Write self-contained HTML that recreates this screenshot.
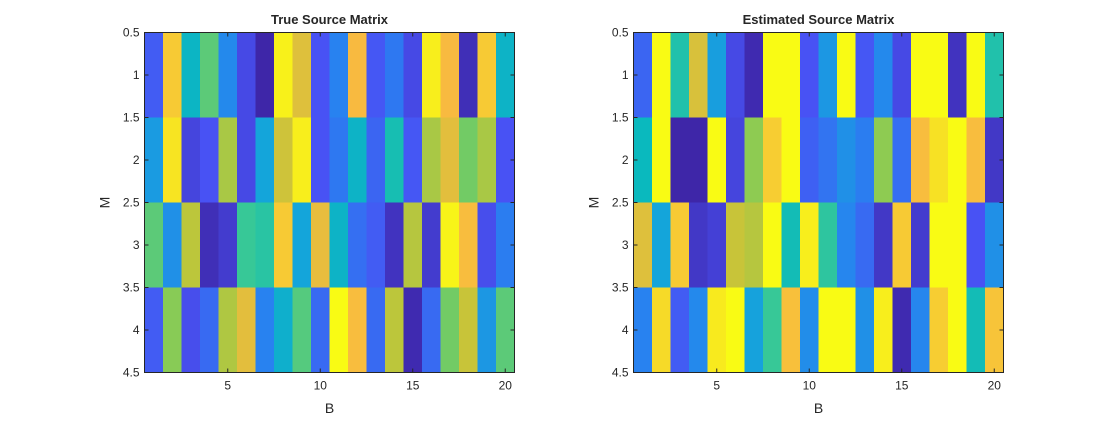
<!DOCTYPE html>
<html><head><meta charset="utf-8"><style>
html,body{margin:0;padding:0;background:#fff;}
svg text{font-family:"Liberation Sans",Arial,sans-serif;fill:#262626;}
</style></head><body>
<svg id="fig" width="1109" height="420" xmlns="http://www.w3.org/2000/svg"></svg>
<script>
const trueRows = [
 [0.12,0.85,0.38,0.55,0.22,0.08,0.0,0.97,0.75,0.10,0.20,0.80,0.11,0.18,0.08,0.96,0.80,0.02,0.85,0.37],
 [0.27,0.93,0.07,0.10,0.66,0.08,0.30,0.72,0.96,0.10,0.18,0.37,0.14,0.43,0.11,0.66,0.76,0.58,0.66,0.10],
 [0.55,0.24,0.69,0.02,0.05,0.50,0.47,0.85,0.30,0.77,0.37,0.16,0.12,0.03,0.68,0.05,0.98,0.81,0.09,0.19],
 [0.12,0.61,0.09,0.15,0.67,0.76,0.20,0.35,0.54,0.15,1.00,0.81,0.15,0.69,0.01,0.15,0.58,0.71,0.26,0.55]
];
const estRows = [
 [0.14,1.00,0.45,0.74,0.28,0.08,0.01,1.00,1.00,0.10,0.26,1.00,0.11,0.22,0.08,1.00,1.00,0.03,1.00,0.45],
 [0.40,1.00,0.00,0.00,1.00,0.07,0.62,0.86,1.00,0.13,0.17,0.24,0.19,0.62,0.16,0.81,0.92,1.00,0.81,0.04],
 [0.75,0.30,0.85,0.04,0.06,0.71,0.68,1.00,0.42,0.96,0.48,0.21,0.15,0.04,0.85,0.05,1.00,1.00,0.10,0.24],
 [0.20,0.90,0.12,0.22,0.95,1.00,0.29,0.50,0.82,0.23,1.00,1.00,0.24,0.96,0.01,0.21,0.86,1.00,0.42,0.83]
];
const xTicks = [5,10,15,20];
const yTicks = [0.5,1,1.5,2,2.5,3,3.5,4,4.5];
const titles = ["True Source Matrix","Estimated Source Matrix"];

const cmap=[[0,62,38,168],[0.1,72,82,244],[0.2,40,130,240],[0.3,20,165,218],[0.4,10,185,190],[0.5,55,200,151],[0.6,129,204,89],[0.7,195,197,56],[0.8,248,186,64],[0.9,246,218,40],[1,249,251,20]];
function parula(v){v=Math.max(0,Math.min(1,v));for(let i=1;i<cmap.length;i++){if(v<=cmap[i][0]){const a=cmap[i-1],b=cmap[i],t=(v-a[0])/(b[0]-a[0]);return `rgb(${[1,2,3].map(k=>Math.round(a[k]+t*(b[k]-a[k]))).join(',')})`;}}return 'rgb(249,251,20)';}
const NS="http://www.w3.org/2000/svg",svg=document.getElementById('fig');
function mk(tag,attrs,parent){const e=document.createElementNS(NS,tag);for(const k in attrs)e.setAttribute(k,attrs[k]);(parent||svg).appendChild(e);return e;}
const panels=[{x0:144.5,x1:514.5,data:trueRows,name:'true'},{x0:633.5,x1:1003.5,data:estRows,name:'estimated'}];
const y0=32.5,y1=372.5;
panels.forEach((p,pi)=>{
 const g=mk('g',{});
 
 
 const nc=p.data[0].length,nr=p.data.length;
 const sx=v=>p.x0+(v-0.5)/nc*(p.x1-p.x0);
 const sy=v=>y0+(v-0.5)/nr*(y1-y0);
 p.data.forEach((row,r)=>row.forEach((v,c)=>{
  const rc=mk('rect',{x:sx(c+0.5),y:sy(r+0.5),width:sx(c+1.5)-sx(c+0.5)+0.5,height:sy(r+1.5)-sy(r+0.5)+0.5,fill:parula(v)},g);
  
  
 }));
 const fr=mk('rect',{x:p.x0,y:y0,width:p.x1-p.x0,height:y1-y0,fill:'none',stroke:'#262626','stroke-width':1},g);
 
 
 xTicks.forEach(t=>{const x=sx(t);
  mk('line',{x1:x,x2:x,y1:y1,y2:y1-4,stroke:'#262626'},g);
  mk('line',{x1:x,x2:x,y1:y0,y2:y0+4,stroke:'#262626'},g);
  const tx=mk('text',{x:x,y:y1+17,'text-anchor':'middle','font-size':12},g);tx.textContent=t;
  
  });
 yTicks.forEach(t=>{const y=sy(t);
  mk('line',{x1:p.x0,x2:p.x0+4,y1:y,y2:y,stroke:'#262626'},g);
  mk('line',{x1:p.x1,x2:p.x1-4,y1:y,y2:y,stroke:'#262626'},g);
  const tx=mk('text',{x:p.x0-5,y:y+4,'text-anchor':'end','font-size':12},g);tx.textContent=t;
  
  });
 const ti=mk('text',{x:(p.x0+p.x1)/2,y:24,'text-anchor':'middle','font-size':13,'font-weight':'bold',fill:'#000'},g);ti.textContent=titles[pi];
 
 
 const xl=mk('text',{x:(p.x0+p.x1)/2,y:413,'text-anchor':'middle','font-size':14},g);xl.textContent='B';
 
 
 const yx=p.x0-35,yy=(y0+y1)/2;
 const yl=mk('text',{x:yx,y:yy,'text-anchor':'middle','font-size':14,transform:`rotate(-90 ${yx} ${yy})`},g);yl.textContent='M';
 
 
});
</script>
</body></html>
